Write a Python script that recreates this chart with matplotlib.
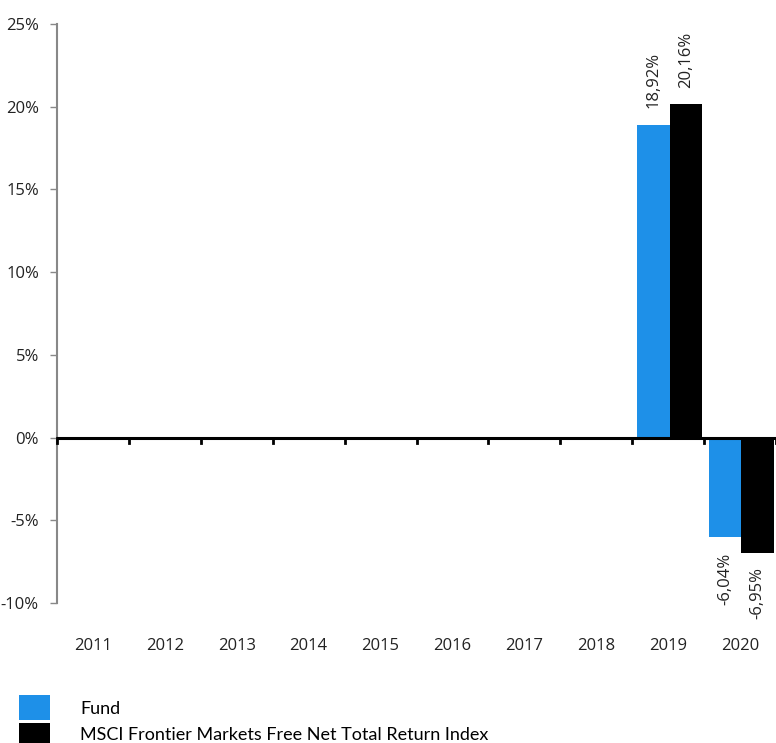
import matplotlib.pyplot as plt
from matplotlib.patches import Rectangle
import numpy as np

years = ['2011', '2012', '2013', '2014', '2015', '2016', '2017', '2018', '2019', '2020']
fund = [0, 0, 0, 0, 0, 0, 0, 0, 18.92, -6.04]
index = [0, 0, 0, 0, 0, 0, 0, 0, 20.16, -6.95]
fund_labels = {8: '18,92%', 9: '-6,04%'}
index_labels = {8: '20,16%', 9: '-6,95%'}

blue = '#1e90e8'
tickfont = ['Open Sans', 'DejaVu Sans']

fig = plt.figure(figsize=(7.76, 7.43), dpi=100)
ax = fig.add_axes([57/776, 1-603/743, 1-57/776, (603-24)/743])

x = np.arange(len(years))
w = 0.45
ax.bar(x - w/2 + 0.02, fund, w, color=blue, zorder=2)
ax.bar(x + w/2 + 0.02, index, w, color='black', zorder=2)

def put_labels(vals, labels, off):
	for i, t in labels.items():
		v = vals[i]
		ax.text(x[i] + off, v + (1.0 if v > 0 else -0.9), t, rotation=90, ha='center',
			va='bottom' if v > 0 else 'top', fontsize=12, family=tickfont, color='#222222')

put_labels(fund, fund_labels, -w/2 + 0.02)
put_labels(index, index_labels, w/2 + 0.02)

ax.set_xlim(-0.5, len(years) - 0.5)
ax.set_ylim(-10, 25)
yt = [-10, -5, 0, 5, 10, 15, 20, 25]
ax.set_yticks(yt)
ax.set_yticklabels(['%d%%' % v for v in yt], family=tickfont, fontsize=12, color='#222222')

# zero line with category ticks
ax.axhline(0, color='black', lw=2.2, zorder=3)
for b in np.arange(-0.5, len(years), 1.0):
	ax.plot([b, b], [0, -0.35], color='black', lw=2, zorder=3, clip_on=False)
ax.set_xticks(x)
ax.set_xticklabels(years, family=tickfont, fontsize=12, color='#222222')
ax.tick_params(axis='x', length=0, pad=25)
ax.tick_params(axis='y', length=5, color='#888888', width=1, pad=8)

for s in ['top', 'right', 'bottom']:
	ax.spines[s].set_visible(False)
ax.spines['left'].set_color('#888888')
ax.spines['left'].set_linewidth(1.5)

# legend
fig.patches.append(Rectangle((19/776, 1-720/743), 31/776, 25/743, transform=fig.transFigure,
	facecolor=blue, edgecolor='none'))
fig.patches.append(Rectangle((19/776, 1-750/743), 31/776, 27/743, transform=fig.transFigure,
	facecolor='black', edgecolor='none'))
fig.text(80/776, 1-709/743, 'Fund', va='center', fontsize=13, family='Lato')
fig.text(80/776, 1-735/743, 'MSCI Frontier Markets Free Net Total Return Index', va='center', fontsize=13, family='Lato')

fig.savefig('out.png', dpi=100)
